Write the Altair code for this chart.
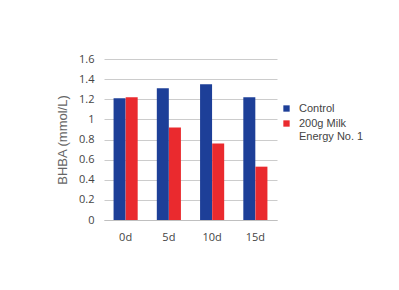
import altair as alt
import pandas as pd

days = ["0d", "5d", "10d", "15d"]
control = [1.21, 1.31, 1.35, 1.22]
milk = [1.22, 0.92, 0.76, 0.53]
series = ["Control", "200g Milk Energy No. 1"]
colors = ["#1d3f98", "#ea2a2e"]

rows = []
for d, c, m in zip(days, control, milk):
    rows.append({"day": d, "group": series[0], "value": c})
    rows.append({"day": d, "group": series[1], "value": m})
df = pd.DataFrame(rows)

chart = alt.Chart(df).mark_bar(size=12).encode(
    x=alt.X("day:N", sort=days, title=None,
            scale=alt.Scale(paddingInner=0.44, paddingOuter=0.22),
            axis=alt.Axis(labelAngle=0, ticks=False, domainColor="#bfbfbf",
                          labelColor="#444444", labelFontSize=11, labelPadding=11,
                          labelFont="Open Sans")),
    xOffset=alt.XOffset("group:N", sort=series),
    y=alt.Y("value:Q", title="BHBA (mmol/L)",
            scale=alt.Scale(domain=[0, 1.6]),
            axis=alt.Axis(values=[0, 0.2, 0.4, 0.6, 0.8, 1.0, 1.2, 1.4, 1.6],
                          labelExpr="format(datum.value, '.1~f')",
                          domain=False, ticks=False, gridColor="#cccccc",
                          labelColor="#444444", labelFontSize=11, labelPadding=10,
                          labelFont="Open Sans",
                          titleColor="#666666", titleFontSize=13, titleFontWeight="normal",
                          titleFont="Liberation Sans", titlePadding=9)),
    color=alt.Color("group:N", sort=series,
                    scale=alt.Scale(domain=series, range=colors),
                    legend=alt.Legend(title=None, orient="none", legendX=177, legendY=44,
                                      symbolType="square", symbolSize=40,
                                      labelFontSize=11, labelColor="#444444",
                                      labelFont="Liberation Sans", rowPadding=3,
                                      labelLimit=200, labelOffset=7,
                                      labelExpr="datum.label == '200g Milk Energy No. 1' ? ['200g Milk', 'Energy No. 1'] : datum.label")),
).properties(
    width=173, height=161,
    padding={"left": 104, "top": 59, "right": 122, "bottom": 70},
    autosize=alt.AutoSizeParams(type="none"),
).configure_view(stroke=None)

chart.save("out.html", embed_options={"renderer": "svg", "actions": False})
